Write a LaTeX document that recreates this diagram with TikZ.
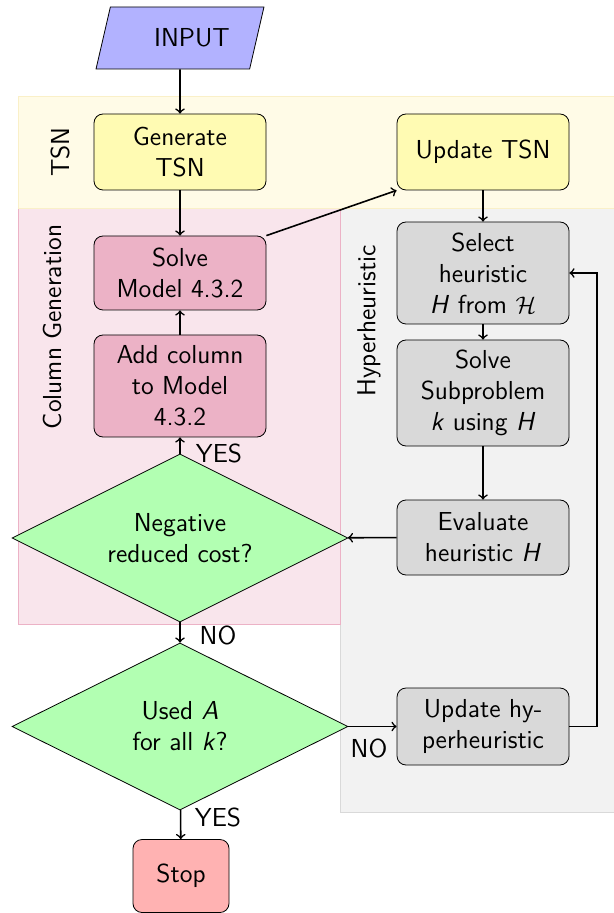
\documentclass[tikz,border=0pt]{standalone}
\usepackage{amsmath,amssymb}
\usetikzlibrary{shapes.geometric}
\renewcommand{\familydefault}{\sfdefault}
\newcommand{\fs}{\fontsize{13}{15.5}\selectfont}
\definecolor{tsnback}{RGB}{255,251,231}
\definecolor{tsnline}{RGB}{250,240,200}
\tikzset{every picture/.style={x=.5pt,y=-.5pt}}
\tikzset{box/.style={rectangle,rounded corners=4.5pt,draw,align=center,inner sep=2pt,minimum width=86pt,minimum height=38pt,font=\fs}}
\tikzset{tsnbox/.style={box,fill=yellow!30}}
\tikzset{cgbox/.style={box,fill=purple!30}}
\tikzset{hhbox/.style={box,fill=gray!30}}
\tikzset{decision/.style={diamond,draw,fill=green!30,aspect=2,inner sep=0pt,align=center,minimum width=168pt,minimum height=84pt,font=\fs}}
\tikzset{edge/.style={->,thick}}
\tikzset{annot/.style={inner sep=1pt,font=\fs}}
\tikzset{lanelabel/.style={rotate=90,inner sep=1pt,font=\fs}}

\begin{document}
\begin{tikzpicture}
\useasboundingbox (0,0) rectangle (614,913);
% lanes
\draw [fill=gray!10,draw=gray!30] (340,208) rectangle (614,812);
\draw [fill=purple!10,draw=purple!30] (18,208) rectangle (340,624);
\draw [fill=tsnback,draw=tsnline] (18,96) rectangle (614,208);
\node [lanelabel] (ltsn) at (60,152) {TSN};
\node [lanelabel] (lcg) at (52,327) {Column Generation};
\node [lanelabel] (lhh) at (369,321) {Hyperheuristic};

\node [trapezium,trapezium left angle=70,trapezium right angle=110,trapezium stretches=true,draw,fill=blue!30,minimum width=84.5pt,minimum height=31pt,font=\fs] (in) at (180,38) {\hspace*{12pt}INPUT};
\node [tsnbox] (gen) at (180,152) {Generate\\TSN};
\node [tsnbox] (upd) at (483,152) {Update TSN};
\node [cgbox,minimum height=37pt] (solve) at (180,273) {Solve\\Model 4.3.2};
\node [cgbox,minimum height=51pt] (add) at (180,386) {Add column\\to Model\\4.3.2};
\node [hhbox,minimum height=51pt] (sel) at (483,273) {Select\\heuristic\\\textit{H} from $\mathcal{H}$};
\node [hhbox,minimum height=53pt] (sub) at (483,393) {Solve\\Subproblem\\\textit{k} using \textit{H}};
\node [hhbox,minimum height=37.5pt] (eval) at (483,537.5) {Evaluate\\heuristic \textit{H}};
\node [hhbox,minimum height=38.5pt] (uph) at (483,726.5) {Update hy-\\perheuristic};
\node [decision] (d1) at (180,538) {Negative\\reduced cost?};
\node [decision,minimum height=83.5pt] (d2) at (180,726.5) {Used \textit{A}\\for all \textit{k}?};
\node [box,fill=red!30,minimum width=48pt,minimum height=36.5pt] (stop) at (181,876) {Stop};
\coordinate (r) at (597,726.5);

\draw [edge] (in) -- (gen);
\draw [edge] (gen) -- (solve);
\draw [edge] (add) -- (solve);
\draw [edge] (solve.north east) -- (upd.south west);
\draw [edge] (upd) -- (sel);
\draw [edge] (sel) -- (sub);
\draw [edge] (sub) -- (eval);
\draw [edge] (eval) -- (d1);
\draw [edge] (d1) -- (add);
\draw [edge] (d1) -- (d2);
\draw [edge] (d2) -- (uph);
\draw [edge] (d2) -- (stop);
\draw [edge] (uph.east) -- (r) |- (sel.east);

\node [annot] (yes1) at (219,453) {YES};
\node [annot] (no1) at (218,635) {NO};
\node [annot] (no2) at (369,748) {NO};
\node [annot] (yes2) at (218,817) {YES};
\end{tikzpicture}
\end{document}
